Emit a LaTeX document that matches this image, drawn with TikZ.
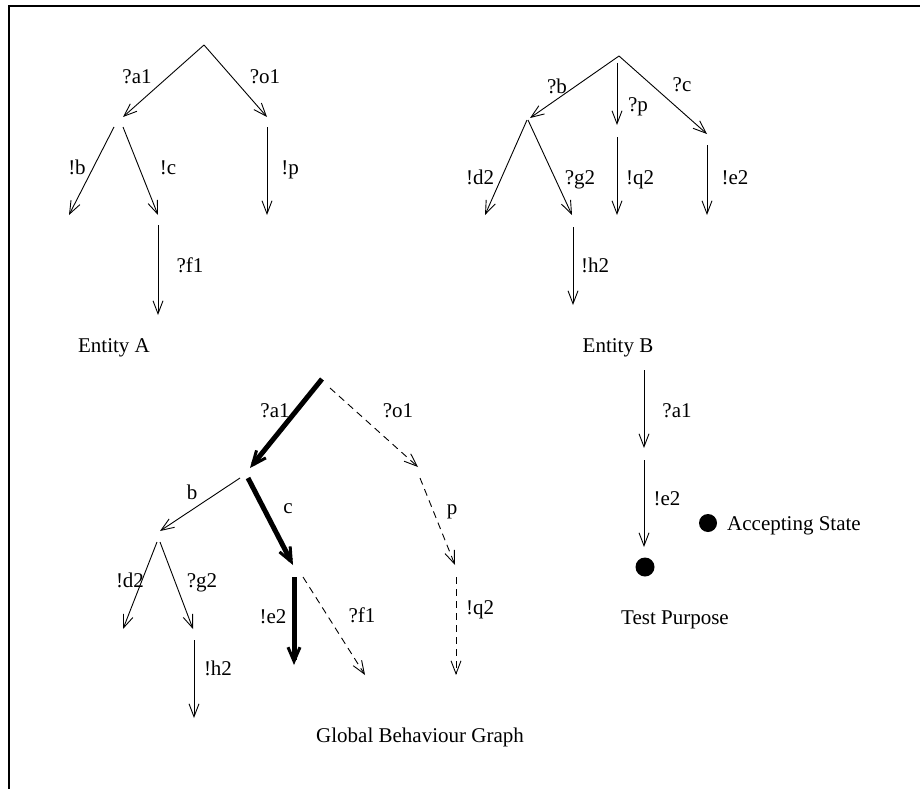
\documentclass[tikz,border=0pt]{standalone}
\usepackage{fontspec}
\setmainfont{Liberation Serif}
\usetikzlibrary{arrows.meta}
\begin{document}
\begin{tikzpicture}[x=1pt,y=-1pt,
  edge/.style={line width=0.9pt,-{Straight Barb[length=13pt,width=10pt,line width=0.9pt]}},
  hotedge/.style={line width=5pt,-{Straight Barb[length=14pt,width=12pt,line width=3pt]}},
  dashedge/.style={line width=0.9pt,dash pattern=on 7pt off 5pt,-{Straight Barb[length=13pt,width=10pt,line width=0.9pt]}},
  lbl/.style={font=\fontsize{21}{25}\selectfont,inner sep=0pt,anchor=base},
  dot/.style={circle,fill=black,inner sep=0pt,minimum size=19pt}
]
\useasboundingbox (0,0) rectangle (920,789);
\draw[line width=2pt] (920,6) -- (9,6) -- (9,789);

% ---------------- Entity A ----------------
\coordinate (A0) at (204,45);
\coordinate (A1) at (123,117);
\coordinate (A2) at (267,117);
\coordinate (A1b) at (114,127);
\coordinate (A3) at (69,215);
\coordinate (A1c) at (123,127);
\coordinate (A4) at (158,215);
\coordinate (A2p) at (267,127);
\coordinate (A5) at (267,215);
\coordinate (A4f) at (158,225);
\coordinate (A6) at (158,315);
\draw[edge] (A0) -- (A1);
\draw[edge] (A0) -- (A2);
\draw[edge] (A1b) -- (A3);
\draw[edge] (A1c) -- (A4);
\draw[edge] (A2p) -- (A5);
\draw[edge] (A4f) -- (A6);
\node[lbl] (la1) at (137,84) {?a1};
\node[lbl] (lo1) at (265,84) {?o1};
\node[lbl] (lb) at (77,174) {!b};
\node[lbl] (lc) at (168,174) {!c};
\node[lbl] (lp) at (290,174) {!p};
\node[lbl] (lf1) at (190,272) {?f1};
\node[lbl] (tA) at (114,352) {Entity A};

% ---------------- Entity B ----------------
\coordinate (B0) at (619,56);
\coordinate (B1) at (530,118);
\coordinate (B0p) at (617,63);
\coordinate (B2) at (617,125);
\coordinate (B3) at (707,134);
\coordinate (B1d) at (527,120);
\coordinate (B4) at (485,215);
\coordinate (B1g) at (528,120);
\coordinate (B5) at (572,215);
\coordinate (B2q) at (617,137);
\coordinate (B6) at (617,215);
\coordinate (B3e) at (707,145);
\coordinate (B7) at (707,215);
\coordinate (B5h) at (573,227);
\coordinate (B8) at (573,305);
\draw[edge] (B0) -- (B1);
\draw[edge] (B0p) -- (B2);
\draw[edge] (B0) -- (B3);
\draw[edge] (B1d) -- (B4);
\draw[edge] (B1g) -- (B5);
\draw[edge] (B2q) -- (B6);
\draw[edge] (B3e) -- (B7);
\draw[edge] (B5h) -- (B8);
\node[lbl] (lb2) at (557,94) {?b};
\node[lbl] (lp2) at (638,112) {?p};
\node[lbl] (lc2) at (682,92) {?c};
\node[lbl] (ld2) at (480,184) {!d2};
\node[lbl] (lg2) at (580,184) {?g2};
\node[lbl] (lq2) at (640,184) {!q2};
\node[lbl] (le2) at (735,184) {!e2};
\node[lbl] (lh2) at (595,272) {!h2};
\node[lbl] (tB) at (618,352) {Entity B};

% ---------------- Global Behaviour Graph ----------------
\coordinate (G0) at (322,379);
\coordinate (G0o) at (330,388);
\coordinate (G1) at (250,468);
\coordinate (G2) at (418,467);
\coordinate (G1b) at (240,478);
\coordinate (G3) at (160,531);
\coordinate (G1c) at (248,478);
\coordinate (G4) at (293,565);
\coordinate (G2p) at (420,478);
\coordinate (G5) at (455,565);
\coordinate (G3d) at (157,542);
\coordinate (G6) at (123,629);
\coordinate (G3g) at (160,542);
\coordinate (G7) at (193,629);
\coordinate (G4e) at (294,577);
\coordinate (G8) at (294,665);
\coordinate (G4f) at (303,577);
\coordinate (G9) at (365,675);
\coordinate (G5q) at (456,577);
\coordinate (G10) at (456,675);
\coordinate (G7h) at (194,640);
\coordinate (G11) at (194,718);
\draw[hotedge] (G0) -- (G1);
\draw[dashedge] (G0o) -- (G2);
\draw[edge] (G1b) -- (G3);
\draw[hotedge] (G1c) -- (G4);
\draw[dashedge] (G2p) -- (G5);
\draw[edge] (G3d) -- (G6);
\draw[edge] (G3g) -- (G7);
\draw[hotedge] (G4e) -- (G8);
\draw[dashedge] (G4f) -- (G9);
\draw[dashedge] (G5q) -- (G10);
\draw[edge] (G7h) -- (G11);
\node[lbl] (ga1) at (275,417) {?a1};
\node[lbl] (go1) at (398,417) {?o1};
\node[lbl] (gb) at (192,499) {b};
\node[lbl] (gc) at (288,513) {c};
\node[lbl] (gp) at (452,514) {p};
\node[lbl] (gd2) at (130,587) {!d2};
\node[lbl] (gg2) at (202,587) {?g2};
\node[lbl] (ge2) at (273,623) {!e2};
\node[lbl] (gf1) at (362,622) {?f1};
\node[lbl] (gq2) at (480,614) {!q2};
\node[lbl] (gh2) at (218,675) {!h2};
\node[lbl] (tG) at (420,742) {Global Behaviour Graph};

% ---------------- Test Purpose ----------------
\coordinate (T0) at (644,370);
\coordinate (T1) at (644,448);
\coordinate (T1e) at (644,460);
\coordinate (T2) at (644,547);
\node[dot] (tdot) at (645,567) {};
\node[dot,minimum size=18pt] (adot) at (708,523) {};
\draw[edge] (T0) -- (T1);
\draw[edge] (T1e) -- (T2);
\node[lbl] (ta1) at (677,417) {?a1};
\node[lbl] (te2) at (667,505) {!e2};
\node[lbl,anchor=base west] (tacc) at (727,530) {Accepting State};
\node[lbl] (tT) at (675,624) {Test Purpose};
\end{tikzpicture}
\end{document}
